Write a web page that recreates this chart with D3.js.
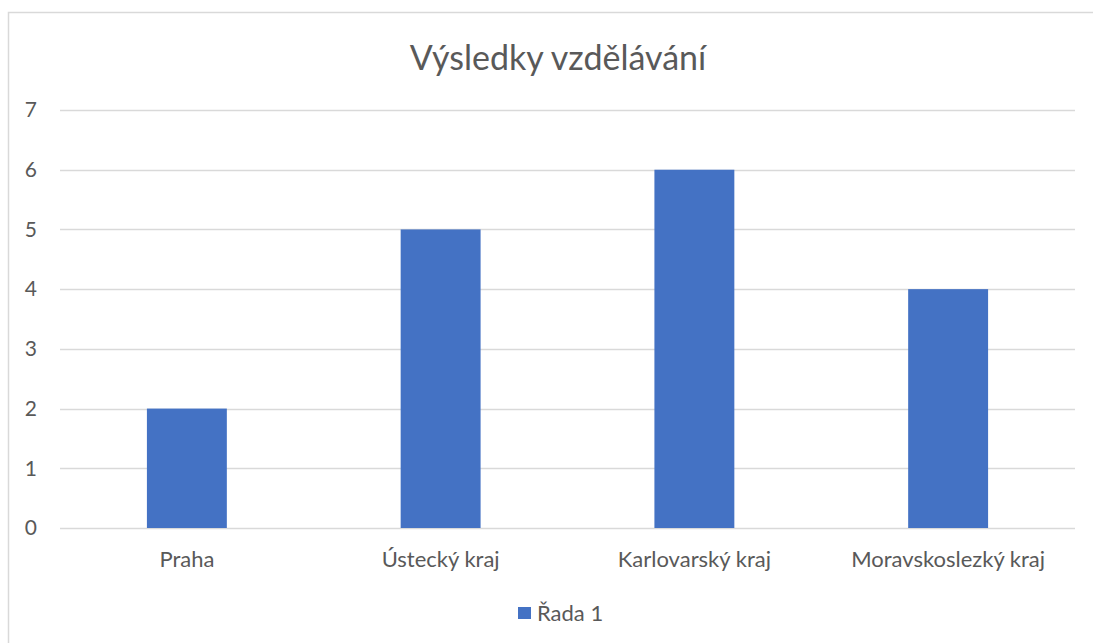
<!DOCTYPE html>
<html>
<head>
<meta charset="utf-8">
<script src="https://cdn.jsdelivr.net/npm/d3@7"></script>
<style>
  body { margin: 0; background: #fff; }
  text { font-family: Lato, "Open Sans", sans-serif; fill: #595959; }
</style>
</head>
<body>
<svg id="chart"></svg>
<script>
const title = "Výsledky vzdělávání";
const categories = ["Praha", "Ústecký kraj", "Karlovarský kraj", "Moravskoslezký kraj"];
const values = [2, 5, 6, 4];
const seriesName = "Řada 1";
const yTicks = [0, 1, 2, 3, 4, 5, 6, 7];

const width = 1093, height = 643;
const margin = { top: 110, right: 18, bottom: 115, left: 60 };
const barColor = "#4472c4";

const svg = d3.select("#chart")
    .attr("width", width)
    .attr("height", height);

// chart area border
svg.append("rect")
    .attr("x", 8.5).attr("y", 12.5)
    .attr("width", width).attr("height", height)
    .attr("fill", "none")
    .attr("stroke", "#d9d9d9")
    .attr("stroke-width", 1.5);

const x = d3.scaleBand()
    .domain(categories)
    .range([margin.left, width - margin.right])
    .padding(0);

const y = d3.scaleLinear()
    .domain([0, 7])
    .range([height - margin.bottom, margin.top]);

// gridlines
svg.append("g")
    .selectAll("line")
    .data(yTicks)
    .join("line")
    .attr("x1", margin.left)
    .attr("x2", width - margin.right)
    .attr("y1", d => Math.round(y(d)) + 0.5)
    .attr("y2", d => Math.round(y(d)) + 0.5)
    .attr("stroke", "#d9d9d9")
    .attr("stroke-width", 1.3);

// y tick labels
svg.append("g")
    .selectAll("text")
    .data(yTicks)
    .join("text")
    .attr("x", 37)
    .attr("y", d => y(d))
    .attr("dy", "0.35em")
    .attr("text-anchor", "end")
    .style("font-size", "21px")
    .text(d => d);

// bars
const barW = x.bandwidth() * 0.315;
svg.append("g")
    .selectAll("rect")
    .data(values)
    .join("rect")
    .attr("x", (d, i) => x(categories[i]) + x.bandwidth() / 2 - barW / 2)
    .attr("y", d => y(d))
    .attr("width", barW)
    .attr("height", d => y(0) - y(d))
    .attr("fill", barColor);

// category labels
svg.append("g")
    .selectAll("text")
    .data(categories)
    .join("text")
    .attr("x", d => x(d) + x.bandwidth() / 2)
    .attr("y", height - margin.bottom + 39)
    .attr("text-anchor", "middle")
    .style("font-size", "22px")
    .text(d => d);

// title
svg.append("text")
    .attr("x", 558)
    .attr("y", 70)
    .attr("text-anchor", "middle")
    .style("font-size", "34px")
    .text(title);

// legend
const legend = svg.append("g").attr("transform", "translate(518, 607)");
legend.append("rect")
    .attr("width", 13).attr("height", 12)
    .attr("fill", barColor);
legend.append("text")
    .attr("x", 19)
    .attr("y", 14)
    .style("font-size", "22px")
    .text(seriesName);
</script>
</body>
</html>
